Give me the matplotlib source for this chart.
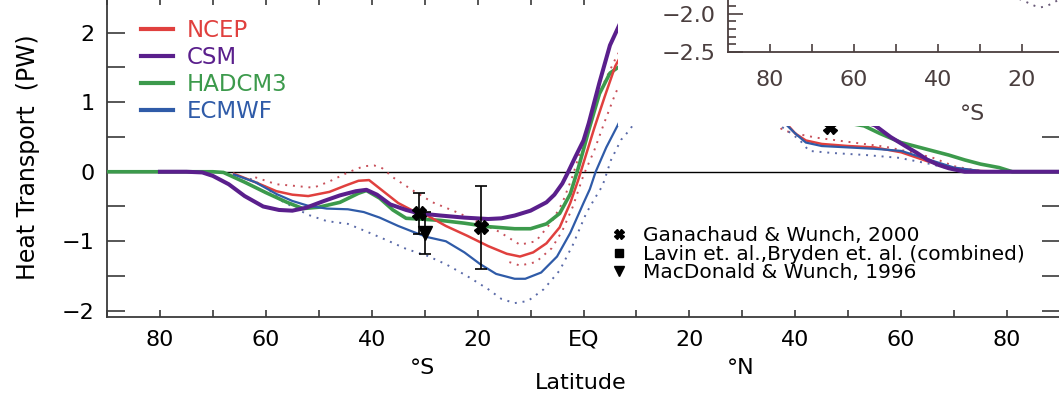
import matplotlib
matplotlib.use("Agg")
import matplotlib.pyplot as plt
from matplotlib.lines import Line2D
from matplotlib.patches import Rectangle
from matplotlib.ticker import MultipleLocator, FixedLocator

# ---- data (lat: negative = south) ----
ncep_lat = [-66, -62, -58, -55, -52, -48, -45, -42.5, -40.5, -38.5, -35, -32, -29.5, -26, -22,
            -18, -14.5, -12, -9.5, -7, -4.5, -2.5, -1, 0.5, 2, 4, 6, 8, 10, 15, 20, 25, 30,
            35, 38, 40, 42, 45, 50, 55, 60, 65, 70, 75, 80, 85, 90]
ncep_val = [-0.03, -0.15, -0.28, -0.33, -0.35, -0.29, -0.2, -0.13, -0.12, -0.24, -0.45, -0.57,
            -0.63, -0.78, -0.92, -1.07, -1.18, -1.22, -1.16, -1.03, -0.8, -0.45, -0.12, 0.25,
            0.62, 1.08, 1.52, 1.8, 1.92, 1.95, 1.8, 1.5, 1.2, 0.9, 0.72, 0.55, 0.45, 0.4, 0.37,
            0.35, 0.28, 0.15, 0.05, 0.01, 0.0, 0.0, 0.0]

csm_lat = [-80, -75, -72, -70, -67, -64, -60.5, -57.5, -55, -52.5, -49, -46, -43, -41, -39,
           -36.5, -33.5, -31, -27, -22.5, -18, -15.5, -13, -10, -7, -5.5, -4, -3, -1.5, 0, 1,
           3, 5, 7, 10, 15, 20, 25, 30, 35, 40, 45, 50, 55, 58, 61, 63, 65, 67, 69, 72, 75,
           80, 85, 90]
csm_val = [0, 0, -0.01, -0.06, -0.18, -0.35, -0.5, -0.55, -0.56, -0.52, -0.42, -0.34, -0.28,
           -0.26, -0.33, -0.47, -0.55, -0.6, -0.63, -0.66, -0.68, -0.67, -0.63, -0.56, -0.44,
           -0.33, -0.17, -0.02, 0.22, 0.45, 0.7, 1.28, 1.82, 2.15, 2.3, 2.25, 2.05, 1.8, 1.5,
           1.25, 1.05, 0.9, 0.78, 0.67, 0.5, 0.36, 0.27, 0.17, 0.1, 0.05, 0.0, 0, 0, 0, 0]

had_lat = [-90, -85, -80, -75, -70, -68, -64, -60, -56, -53, -50, -46, -42.5, -41, -38.5, -36,
           -33.5, -31, -27, -22.5, -18, -13, -10, -7, -4.5, -2.5, -1, 0, 1, 3, 5, 6.5, 8, 10,
           15, 20, 25, 30, 35, 40, 45, 50, 53, 56, 60, 63, 66, 69, 72, 75, 78.5, 81, 85, 90]
had_val = [0, 0, 0, 0, 0, -0.01, -0.15, -0.3, -0.44, -0.53, -0.51, -0.44, -0.31, -0.27, -0.38,
           -0.55, -0.67, -0.68, -0.7, -0.74, -0.79, -0.82, -0.82, -0.75, -0.6, -0.32, 0.05,
           0.32, 0.6, 1.12, 1.42, 1.5, 1.55, 1.6, 1.6, 1.5, 1.35, 1.2, 1.05, 0.9, 0.8, 0.7,
           0.66, 0.55, 0.42, 0.36, 0.3, 0.24, 0.17, 0.11, 0.06, 0.0, 0, 0]

ecm_lat = [-66, -62, -58, -55, -52, -48.5, -44.5, -41.5, -38.5, -35, -32, -29.5, -26, -22.5,
           -19.5, -16.5, -13, -11, -8, -5, -2.5, 0, 1.2, 2.3, 4.3, 6.4, 8, 10, 15, 20, 25, 30,
           35, 38, 40, 42, 45, 50, 55, 60, 65, 70, 75, 80, 85, 90]
ecm_val = [-0.04, -0.15, -0.32, -0.42, -0.49, -0.53, -0.54, -0.58, -0.66, -0.78, -0.87, -0.94,
           -1.0, -1.16, -1.33, -1.47, -1.54, -1.54, -1.45, -1.22, -0.88, -0.45, -0.25, 0.0,
           0.35, 0.66, 0.9, 1.1, 1.3, 1.3, 1.2, 1.0, 0.8, 0.7, 0.55, 0.42, 0.37, 0.35, 0.33,
           0.3, 0.18, 0.06, 0.01, 0, 0, 0]

# dotted uncertainty curves
ncep_hi_lat = [-62, -58, -55, -51, -48, -44.5, -41.5, -39.5, -38, -36, -32, -28.5, -24, -20,
               -16, -12, -9, -6, -4, -2, 0, 2, 4, 6, 8, 10, 15, 20, 25, 30, 35, 37.5, 40, 44,
               50, 57, 62, 66, 70, 74, 78]
ncep_hi_val = [-0.08, -0.18, -0.2, -0.23, -0.14, -0.01, 0.08, 0.09, 0.05, -0.08, -0.28, -0.44,
               -0.58, -0.72, -0.86, -1.05, -1.0, -0.72, -0.45, -0.05, 0.45, 0.9, 1.3, 1.62,
               1.9, 2.05, 2.1, 1.95, 1.65, 1.35, 0.95, 0.6, 0.55, 0.49, 0.43, 0.36, 0.28, 0.2,
               0.08, 0.02, 0.0]

ncep_lo_lat = [-14, -12, -9, -6, -4, -2, 0, 2, 4, 6, 8]
ncep_lo_val = [-1.3, -1.35, -1.3, -1.1, -0.85, -0.5, -0.05, 0.3, 0.72, 1.12, 1.45]

ecm_lo_lat = [-63, -60, -57, -52, -48.5, -44.5, -41, -37, -33.5, -29.5, -26, -22, -18, -15.5,
              -13, -10.5, -7.5, -4.5, -2, 0.5, 2, 3.6, 5.2, 7.1, 8.7, 10, 15, 20, 25, 30, 35,
              38, 40.8, 42.6, 47, 53.4, 59.6, 65, 70, 75]
ecm_lo_val = [-0.1, -0.22, -0.42, -0.62, -0.71, -0.75, -0.86, -0.99, -1.11, -1.21, -1.33, -1.5,
              -1.69, -1.83, -1.89, -1.86, -1.69, -1.42, -1.05, -0.6, -0.4, -0.2, 0.17, 0.46,
              0.6, 0.75, 0.95, 1.0, 0.95, 0.85, 0.75, 0.62, 0.46, 0.3, 0.27, 0.24, 0.2, 0.12,
              0.03, 0.0]

# observations
gw_lat = [-31, -19.3, 46.5]
gw_val = [-0.6, -0.8, 0.64]
gw_err = [0.3, 0.6, 0.05]
mw_lat = [-30]
mw_val = [-0.88]
mw_err = [0.3]

# fragment of the inset curve
inset_lat = [-22, -19, -17, -15.5, -14, -12.5, -10]
inset_val = [-1.78, -1.85, -1.9, -1.92, -1.9, -1.86, -1.78]

xtick_pos = [-80, -60, -40, -20, 0, 20, 40, 60, 80]
xtick_lab = ["80", "60", "40", "20", "EQ", "20", "40", "60", "80"]

RED = "#e0403e"
PURPLE = "#5a1f8c"
GREEN = "#3c9a4c"
BLUE = "#2f5ba8"
DRED = "#c8505a"
DBLUE = "#5a6aa8"
AX = "#3a3a3a"

W, H = 1059, 397
fig = plt.figure(figsize=(W / 100, H / 100), dpi=100)
ax = fig.add_axes([107 / W, 80 / H, 953 / W, 319 / H])

ax.axhline(0, color="black", lw=1.0, zorder=1)
ax.plot(ncep_hi_lat, ncep_hi_val, color=DRED, lw=1.4, ls=(0, (1, 3)), zorder=2)
ax.plot(ncep_lo_lat, ncep_lo_val, color=DRED, lw=1.4, ls=(0, (1, 3)), zorder=2)
ax.plot(ecm_lo_lat, ecm_lo_val, color=DBLUE, lw=1.4, ls=(0, (1, 3)), zorder=2)

l_had, = ax.plot(had_lat, had_val, color=GREEN, lw=2.6, label="HADCM3", zorder=3)
l_ncep, = ax.plot(ncep_lat, ncep_val, color=RED, lw=1.8, label="NCEP", zorder=4)
l_ecm, = ax.plot(ecm_lat, ecm_val, color=BLUE, lw=1.6, label="ECMWF", zorder=4)
l_csm, = ax.plot(csm_lat, csm_val, color=PURPLE, lw=2.9, label="CSM", zorder=5)

ax.errorbar(gw_lat, gw_val, yerr=gw_err, fmt="X", color="black", ms=10, mec="black",
            elinewidth=1.2, capsize=4, capthick=1.2, zorder=6)
ax.errorbar(mw_lat, mw_val, yerr=mw_err, fmt="v", color="black", ms=10,
            elinewidth=1.2, capsize=4, capthick=1.2, zorder=6)

ax.set_xlim(-90, 90)
ax.set_ylim(-2.09, 2.5)
ax.xaxis.set_major_locator(FixedLocator(xtick_pos))
ax.set_xticklabels(xtick_lab)
ax.xaxis.set_minor_locator(MultipleLocator(10))
ax.yaxis.set_major_locator(MultipleLocator(1))
ax.yaxis.set_minor_locator(MultipleLocator(0.5))
ax.tick_params(axis="x", which="both", direction="in", length=5, width=1.2, color=AX,
               top=True, labelsize=16, pad=9)
ax.tick_params(axis="y", which="both", direction="in", length=13, width=1.2, color=AX,
               right=True, labelsize=16, pad=9)
for s in ax.spines.values():
    s.set_color(AX)
    s.set_linewidth(1.3)

ax.set_ylabel("Heat Transport  (PW)", fontsize=17, labelpad=16)
ax.text(-30.5, -2.82, "°S", fontsize=16, ha="center", va="center")
ax.text(29.6, -2.82, "°N", fontsize=16, ha="center", va="center")
ax.text(-0.5, -3.04, "Latitude", fontsize=16, ha="center", va="center")

leg1 = ax.legend(handles=[l_ncep, l_csm, l_had, l_ecm], loc="upper left",
                 bbox_to_anchor=(0.026, 0.963), frameon=False, fontsize=16.5,
                 labelcolor="linecolor", handlelength=1.4, handletextpad=0.6,
                 labelspacing=0.17, borderaxespad=0)
for h in leg1.legend_handles:
    h.set_linewidth(3)
ax.add_artist(leg1)

obs_handles = [
    Line2D([], [], ls="none", marker="X", color="black", ms=7),
    Line2D([], [], ls="none", marker="s", color="black", ms=6),
    Line2D([], [], ls="none", marker="v", color="black", ms=7),
]
obs_labels = ["Ganachaud & Wunch, 2000", "Lavin et. al.,Bryden et. al. (combined)",
              "MacDonald & Wunch, 1996"]
ax.legend(obs_handles, obs_labels, loc="upper left", bbox_to_anchor=(0.52, 0.31),
          frameon=False, fontsize=14.5, handlelength=0.8, handletextpad=0.8,
          labelspacing=-0.02, borderaxespad=0)

# white inset covering the top right corner
fig.add_artist(Rectangle((618 / W, 1 - 126 / H), 1, 1, transform=fig.transFigure,
                         facecolor="white", edgecolor="none", zorder=1))

IC = "#4a3e3e"
ins = fig.add_axes([728 / W, (H - 52) / H, 378 / W, 77 / H], zorder=2)
ins.patch.set_alpha(0)
ins.plot(inset_lat, inset_val, color="#6a5a78", lw=1.4, ls=(0, (1, 3)))
ins.set_xlim(-90, 0)
ins.set_ylim(-2.5, -1.5)
ins.spines["top"].set_visible(False)
ins.spines["right"].set_visible(False)
for s in ("left", "bottom"):
    ins.spines[s].set_color(IC)
    ins.spines[s].set_linewidth(1.3)
ins.xaxis.set_major_locator(FixedLocator([-80, -60, -40, -20]))
ins.set_xticklabels(["80", "60", "40", "20"])
ins.xaxis.set_minor_locator(FixedLocator([-70, -50, -30, -10]))
ins.yaxis.set_major_locator(FixedLocator([-2.5, -2.0]))
ins.set_yticklabels(["\u22122.5", "\u22122.0"])
ins.yaxis.set_minor_locator(MultipleLocator(0.1))
ins.tick_params(axis="x", which="both", direction="in", length=6, width=1.2, color=IC,
                labelsize=16, labelcolor=IC, pad=13)
ins.tick_params(axis="y", which="major", direction="in", length=11, width=1.2, color=IC,
                labelsize=16, labelcolor=IC, pad=9)
ins.tick_params(axis="y", which="minor", direction="in", length=6, width=1.2, color=IC)
ins.text(-31.7, -3.3, "°S", fontsize=16, color=IC, ha="center", va="center")

fig.savefig("out.png", dpi=100)
